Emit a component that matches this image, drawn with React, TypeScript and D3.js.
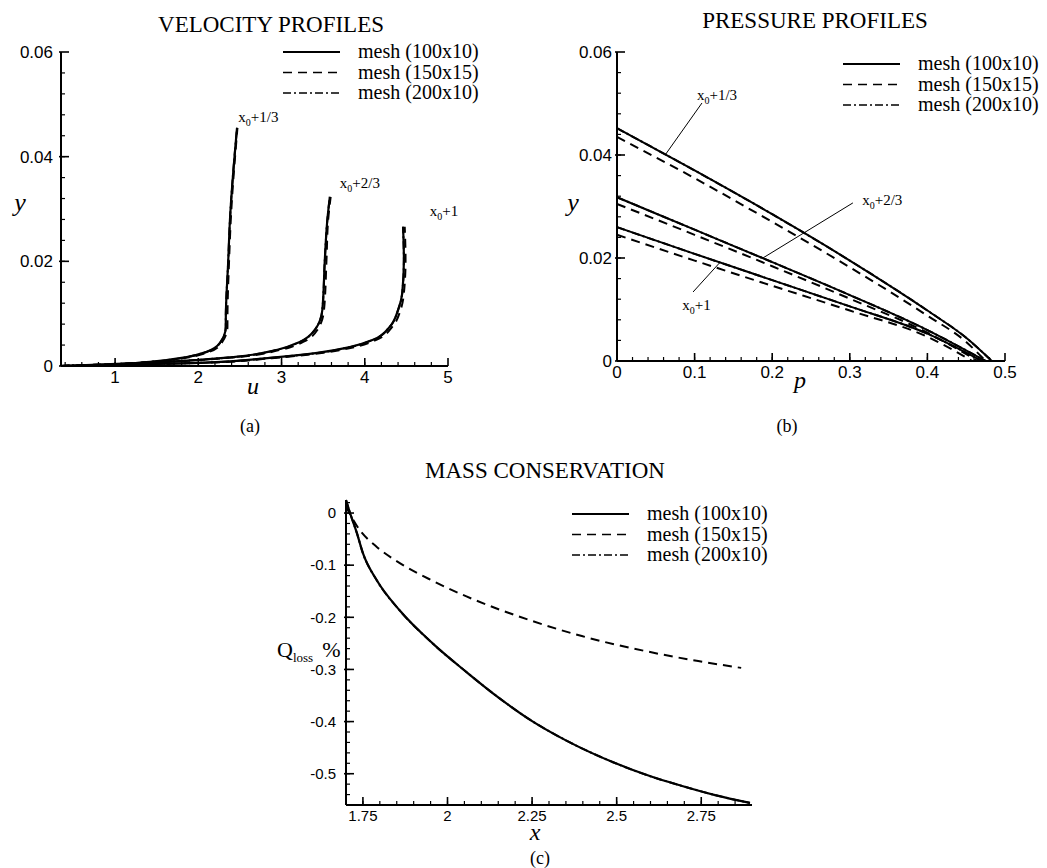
import React from 'react'
import * as d3 from 'd3'

const meshNames = ['mesh (100x10)', 'mesh (150x15)', 'mesh (200x10)']
const dashes = ['none', '9 6', '8 3 2 3']

// (a) velocity profiles, u along y for three stations
const velY1 = [0, 0.0002, 0.0008, 0.0017, 0.0027, 0.0044, 0.0075, 0.0088, 0.0203, 0.0279, 0.0455]
const velU1 = [0.35, 0.82, 1.42, 1.86, 2.10, 2.26, 2.33, 2.33, 2.36, 2.38, 2.465]
const velU1b = [0.35, 0.84, 1.45, 1.90, 2.13, 2.28, 2.35, 2.35, 2.37, 2.39, 2.47]
const velY2 = [0, 0.0008, 0.0017, 0.0031, 0.0046, 0.0069, 0.0107, 0.0203, 0.0279, 0.0323]
const velU2 = [0.35, 1.62, 2.42, 2.95, 3.22, 3.40, 3.49, 3.52, 3.55, 3.58]
const velU2b = [0.35, 1.66, 2.46, 2.99, 3.26, 3.43, 3.51, 3.54, 3.56, 3.59]
const velY3 = [0, 0.0006, 0.0015, 0.0025, 0.0036, 0.0050, 0.0075, 0.0107, 0.0139, 0.0203, 0.0266]
const velU3 = [0.35, 2.02, 2.83, 3.43, 3.82, 4.10, 4.30, 4.40, 4.45, 4.47, 4.46]
const velU3b = [0.35, 2.06, 2.88, 3.48, 3.87, 4.14, 4.33, 4.43, 4.47, 4.49, 4.48]

// (b) pressure profiles
const prP1 = [0, 0.1, 0.2, 0.3, 0.4, 0.45, 0.483]
const prY1 = [0.0452, 0.0370, 0.0285, 0.0195, 0.0098, 0.0045, 0]
const prP1b = [0, 0.1, 0.2, 0.3, 0.4, 0.45, 0.475]
const prY1b = [0.0435, 0.0355, 0.0270, 0.0182, 0.0088, 0.0037, 0]
const prP2 = [0, 0.1, 0.2, 0.3, 0.4, 0.475]
const prY2 = [0.0318, 0.0255, 0.0192, 0.0128, 0.0060, 0]
const prP2b = [0, 0.1, 0.2, 0.3, 0.4, 0.465]
const prY2b = [0.0305, 0.0245, 0.0184, 0.0121, 0.0055, 0]
const prP3 = [0, 0.1, 0.2, 0.3, 0.4, 0.47]
const prY3 = [0.026, 0.0208, 0.0157, 0.0106, 0.0053, 0]
const prP3b = [0, 0.1, 0.2, 0.3, 0.4, 0.458]
const prY3b = [0.0245, 0.0195, 0.0146, 0.0098, 0.0047, 0]

// (c) mass conservation
const massX = [1.70, 1.712, 1.732, 1.75, 1.791, 1.859, 1.956, 2.056, 2.153, 2.25, 2.35, 2.497, 2.6, 2.691, 2.791, 2.894]
const massQ = [0.025, 0, -0.038, -0.077, -0.129, -0.187, -0.250, -0.305, -0.355, -0.399, -0.436, -0.480, -0.505, -0.523, -0.541, -0.556]
const massXb = [1.70, 1.741, 1.791, 1.859, 1.956, 2.056, 2.153, 2.25, 2.397, 2.594, 2.741, 2.868]
const massQb = [0.012, -0.033, -0.065, -0.096, -0.130, -0.160, -0.185, -0.207, -0.236, -0.266, -0.284, -0.297]

// ticks
const velXTicks = [1, 2, 3, 4, 5]
const velXLabels = ['1', '2', '3', '4', '5']
const yTicks = [0, 0.02, 0.04, 0.06]
const yLabels = ['0', '0.02', '0.04', '0.06']
const prXTicks = [0, 0.1, 0.2, 0.3, 0.4, 0.5]
const prXLabels = ['0', '0.1', '0.2', '0.3', '0.4', '0.5']
const massXTicks = [1.75, 2, 2.25, 2.5, 2.75]
const massXLabels = ['1.75', '2', '2.25', '2.5', '2.75']
const massYTicks = [0, -0.1, -0.2, -0.3, -0.4, -0.5]
const massYLabels = ['0', '-0.1', '-0.2', '-0.3', '-0.4', '-0.5']

// station annotations
const stations = ['+1/3', '+2/3', '+1']
const velLabelU = [2.48, 3.70, 4.78]
const velLabelY = [0.0466, 0.0340, 0.0287]
const prLabelP = [0.103, 0.316, 0.084]
const prLabelY = [0.0507, 0.0303, 0.0099]
const leadP0 = [0.1095, 0.304, 0.098]
const leadY0 = [0.0501, 0.0307, 0.0134]
const leadP1 = [0.062, 0.188, 0.133]
const leadY1 = [0.040, 0.020, 0.0192]

const SERIF = '"Liberation Serif", "Times New Roman", serif'
const SANS = '"Liberation Sans", Arial, sans-serif'

const xa = d3.scaleLinear().domain([0.35, 5]).range([61, 448])
const ya = d3.scaleLinear().domain([0, 0.06]).range([366, 52])
const xb = d3.scaleLinear().domain([0, 0.5]).range([617, 1005])
const yb = d3.scaleLinear().domain([0, 0.06]).range([361, 52])
const xc = d3.scaleLinear().domain([1.7, 2.9]).range([346, 752])
const yc = d3.scaleLinear().domain([-0.56, 0.025]).range([805, 500])

const zip = (a: number[], b: number[]) => a.map((v, i) => [v, b[i]] as [number, number])

function Axes({ x, y, xt, xl, yt, yl, xm, ym, fs, xBase, yGap }: any) {
  const [x0, x1] = x.range()
  const [y0, y1] = y.range()
  return (
    <g stroke="#000" fill="none">
      <line x1={x0} x2={x1} y1={y0} y2={y0} strokeWidth={2} />
      <line x1={x0} x2={x0} y1={y0} y2={y1} strokeWidth={2} />
      {xm.map((v: number, i: number) => (
        <line key={'xm' + i} x1={x(v)} x2={x(v)} y1={y0} y2={y0 - 4} strokeWidth={1.2} />
      ))}
      {ym.map((v: number, i: number) => (
        <line key={'ym' + i} x1={x0} x2={x0 + 4} y1={y(v)} y2={y(v)} strokeWidth={1.2} />
      ))}
      {xt.map((v: number, i: number) => (
        <line key={'xt' + i} x1={x(v)} x2={x(v)} y1={y0} y2={y0 - 8} strokeWidth={1.6} />
      ))}
      {yt.map((v: number, i: number) => (
        <line key={'yt' + i} x1={x0 - 2} x2={x0 + 8} y1={y(v)} y2={y(v)} strokeWidth={1.6} />
      ))}
      <g stroke="none" fill="#000" fontFamily={SANS} fontSize={fs}>
        {xt.map((v: number, i: number) => (
          <text key={'xl' + i} x={x(v)} y={xBase} textAnchor="middle">{xl[i]}</text>
        ))}
        {yt.map((v: number, i: number) => (
          <text key={'yl' + i} x={x0 - yGap} y={y(v)} dy="0.35em" textAnchor="end">{yl[i]}</text>
        ))}
      </g>
    </g>
  )
}

function Legend({ x, y }: { x: number; y: number }) {
  return (
    <g>
      {meshNames.map((n, i) => (
        <g key={n}>
          <line x1={x} x2={x + 57} y1={y + i * 20.5} y2={y + i * 20.5} stroke="#000"
            strokeWidth={i === 0 ? 2 : 1.6} strokeDasharray={dashes[i]} />
          <text x={x + 75} y={y + i * 20.5 + 6} fontFamily={SERIF} fontSize={20}>{n}</text>
        </g>
      ))}
    </g>
  )
}

function Station({ x, y, s }: { x: number; y: number; s: string }) {
  return (
    <text x={x} y={y} fontFamily={SERIF} fontSize={15}>
      x<tspan fontSize={10} dy={4}>0</tspan><tspan dy={-4}>{s}</tspan>
    </text>
  )
}

export default function App() {
  const lineA = d3.line<[number, number]>().x(d => xa(d[0])).y(d => ya(d[1])).curve(d3.curveMonotoneY)
  const lineB = d3.line<[number, number]>().x(d => xb(d[0])).y(d => yb(d[1])).curve(d3.curveMonotoneX)
  const lineC = d3.line<[number, number]>().x(d => xc(d[0])).y(d => yc(d[1])).curve(d3.curveMonotoneX)

  const velSeries = [
    [zip(velU1, velY1), zip(velU1b, velY1), zip(velU1, velY1)],
    [zip(velU2, velY2), zip(velU2b, velY2), zip(velU2, velY2)],
    [zip(velU3, velY3), zip(velU3b, velY3), zip(velU3, velY3)],
  ]
  const prSeries = [
    [zip(prP1, prY1), zip(prP1b, prY1b), zip(prP1, prY1)],
    [zip(prP2, prY2), zip(prP2b, prY2b), zip(prP2, prY2)],
    [zip(prP3, prY3), zip(prP3b, prY3b), zip(prP3, prY3)],
  ]
  const massSeries = [zip(massX, massQ), zip(massXb, massQb), zip(massX, massQ)]
  const order = [2, 1, 0]

  return (
    <svg width={1047} height={868} style={{ position: 'absolute', left: 0, top: 0, background: '#fff' }}>
      {/* (a) */}
      <text x={271} y={32} textAnchor="middle" fontFamily={SERIF} fontSize={23}>VELOCITY PROFILES</text>
      <Axes x={xa} y={ya} xt={velXTicks} xl={velXLabels} yt={yTicks} yl={yLabels}
        xm={d3.range(0.4, 5, 0.2)} ym={d3.range(0.004, 0.06, 0.004)} fs={17} xBase={383} yGap={8} />
      {velSeries.map((set, k) => order.map(i => (
        <path key={'a' + k + i} d={lineA(set[i]) || ''} fill="none" stroke="#000"
          strokeWidth={i === 0 ? 2.2 : 2} strokeDasharray={dashes[i]} />
      )))}
      {stations.map((s, i) => <Station key={'sa' + i} x={xa(velLabelU[i])} y={ya(velLabelY[i])} s={s} />)}
      <Legend x={283} y={52} />
      <text x={20} y={211} textAnchor="middle" fontFamily={SERIF} fontStyle="italic" fontSize={26}>y</text>
      <text x={253} y={394} textAnchor="middle" fontFamily={SERIF} fontStyle="italic" fontSize={24}>u</text>
      <text x={250} y={432} textAnchor="middle" fontFamily={SERIF} fontSize={18}>(a)</text>

      {/* (b) */}
      <text x={815} y={28} textAnchor="middle" fontFamily={SERIF} fontSize={23}>PRESSURE PROFILES</text>
      <Axes x={xb} y={yb} xt={prXTicks} xl={prXLabels} yt={yTicks} yl={yLabels}
        xm={d3.range(0.02, 0.5, 0.02)} ym={d3.range(0.004, 0.06, 0.004)} fs={17} xBase={378} yGap={5} />
      {prSeries.map((set, k) => order.map(i => (
        <path key={'b' + k + i} d={lineB(set[i]) || ''} fill="none" stroke="#000"
          strokeWidth={2} strokeDasharray={dashes[i]} />
      )))}
      {stations.map((s, i) => (
        <g key={'sb' + i}>
          <line x1={xb(leadP0[i])} y1={yb(leadY0[i])} x2={xb(leadP1[i])} y2={yb(leadY1[i])} stroke="#000" strokeWidth={1} />
          <Station x={xb(prLabelP[i])} y={yb(prLabelY[i])} s={s} />
        </g>
      ))}
      <Legend x={843} y={64} />
      <text x={573} y={211} textAnchor="middle" fontFamily={SERIF} fontStyle="italic" fontSize={26}>y</text>
      <text x={800} y={388} textAnchor="middle" fontFamily={SERIF} fontStyle="italic" fontSize={24}>p</text>
      <text x={787} y={432} textAnchor="middle" fontFamily={SERIF} fontSize={18}>(b)</text>

      {/* (c) */}
      <text x={545} y={478} textAnchor="middle" fontFamily={SERIF} fontSize={23}>MASS CONSERVATION</text>
      <Axes x={xc} y={yc} xt={massXTicks} xl={massXLabels} yt={massYTicks} yl={massYLabels}
        xm={d3.range(1.75, 2.9, 0.05)} ym={d3.range(0.02, -0.56, -0.02)} fs={15} xBase={821} yGap={10} />
      {order.map(i => (
        <path key={'c' + i} d={lineC(massSeries[i]) || ''} fill="none" stroke="#000"
          strokeWidth={i === 0 ? 2.2 : 2} strokeDasharray={dashes[i]} />
      ))}
      <Legend x={572} y={514} />
      <text x={277} y={657} fontFamily={SERIF} fontSize={22}>
        Q<tspan fontSize={13} dy={5}>loss</tspan><tspan dy={-5} dx={9}>%</tspan>
      </text>
      <text x={535} y={840} textAnchor="middle" fontFamily={SERIF} fontStyle="italic" fontSize={24}>x</text>
      <text x={540} y={864} textAnchor="middle" fontFamily={SERIF} fontSize={18}>(c)</text>
    </svg>
  )
}
